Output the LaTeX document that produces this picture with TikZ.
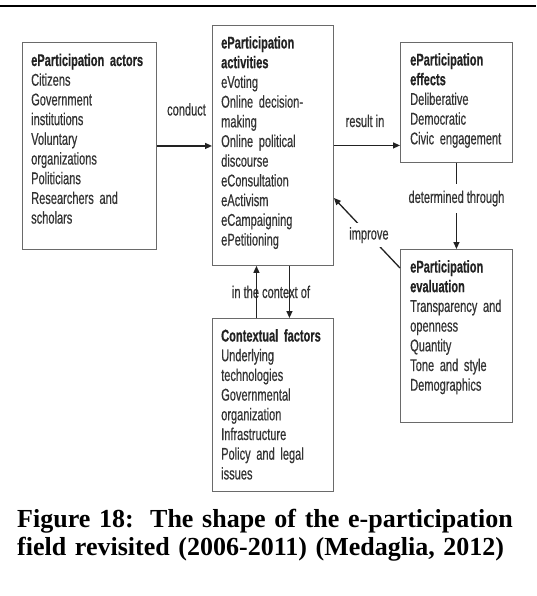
\documentclass[tikz,border=0pt]{standalone}
\usepackage{fontspec}
\usetikzlibrary{arrows.meta,calc}
\newfontfamily\diagfont[FakeStretch=0.65, FakeBold=0.45]{Liberation Sans}
\newfontfamily\capfont{Liberation Serif}
\definecolor{txtgray}{HTML}{333333}
\definecolor{titlegray}{HTML}{222222}
\definecolor{boxgray}{HTML}{6A6A6A}
\definecolor{arrowdark}{HTML}{222222}
\newcommand{\hd}[1]{{\bfseries\color{titlegray}#1}}
\tikzset{
  frame/.style={draw=boxgray, line width=0.9pt, fill=white, inner sep=0pt, anchor=north west},
  body/.style={anchor=base west, inner sep=0pt, text width=125pt, align=left, text=txtgray,
    font=\diagfont\fontsize{17}{19.7}\selectfont},
  tag/.style={text=txtgray, inner sep=0pt, font=\diagfont\fontsize{17}{19.7}\selectfont},
  flow/.style={draw=arrowdark, line width=1.3pt, -{Triangle[length=7pt,width=6pt]}},
}
\begin{document}
\begin{tikzpicture}[x=1pt,y=-1pt]
\useasboundingbox[fill=white] (0,0) rectangle (536,596);

% rule across the top
\draw[line width=2.5pt] (0,6.2) -- (536,6.2);

% frames
\node[frame, minimum width=134pt, minimum height=207pt] (actors) at (22,42) {};
\node[frame, minimum width=121pt, minimum height=240pt] (act) at (212,25) {};
\node[frame, minimum width=112pt, minimum height=120pt] (eff) at (400,42) {};
\node[frame, minimum width=112pt, minimum height=173pt] (eval) at (400,249) {};
\node[frame, minimum width=121pt, minimum height=173pt] (ctx) at (212,318) {};

% box contents
\node[body] (actors-t) at (31,66) {\hd{eParticipation actors}\\Citizens\\Government\\institutions\\Voluntary\\organizations\\Politicians\\Researchers and\\scholars};
\node[body] (act-t) at (221,48.5) {\hd{eParticipation}\\\hd{activities}\\eVoting\\Online decision-\\making\\Online political\\discourse\\eConsultation\\eActivism\\eCampaigning\\ePetitioning};
\node[body] (eff-t) at (410,65.5) {\hd{eParticipation}\\\hd{effects}\\Deliberative\\Democratic\\Civic engagement};
\node[body] (eval-t) at (410,272.5) {\hd{eParticipation}\\\hd{evaluation}\\Transparency and\\openness\\Quantity\\Tone and style\\Demographics};
\node[body] (ctx-t) at (221,341.5) {\hd{Contextual factors}\\Underlying\\technologies\\Governmental\\organization\\Infrastructure\\Policy and legal\\issues};

% connectors
\node[tag, anchor=base] (lab-conduct) at (186.5,115.5) {conduct};
\draw[flow] (actors.east) -- (actors.east -| act.west);

\node[tag, anchor=base] (lab-result) at (365,127) {result in};
\draw[flow] (act.east) -- (act.east -| eff.west);

\draw[flow] (eff.south) -- node[tag, fill=white, pos=0.414, inner xsep=1pt, inner ysep=7pt] (lab-det) {determined through} (eval.north);

\draw[flow] ($(eval.north west)+(0,19)$) -- node[tag, fill=white, pos=0.47, inner xsep=1pt, inner ysep=4pt] (lab-improve) {improve} ($(act.north east)+(0,173)$);

\node[tag, anchor=base] (lab-ctx) at (271,298) {in the context of};
\draw[flow] ([xshift=-16.5pt]ctx.north) -- ([xshift=-16.5pt]act.south);
\draw[flow] ([xshift=16.5pt]act.south) -- ([xshift=16.5pt]ctx.north);

% caption
\node[anchor=base west, inner sep=0pt, text width=520pt, align=left,
  font=\capfont\bfseries\fontsize{26}{28.5}\selectfont] (caption) at (17,527)
  {Figure 18:\hspace{3.5pt} The shape of the e-participation\\field revisited (2006-2011) (Medaglia, 2012)};
\end{tikzpicture}
\end{document}
